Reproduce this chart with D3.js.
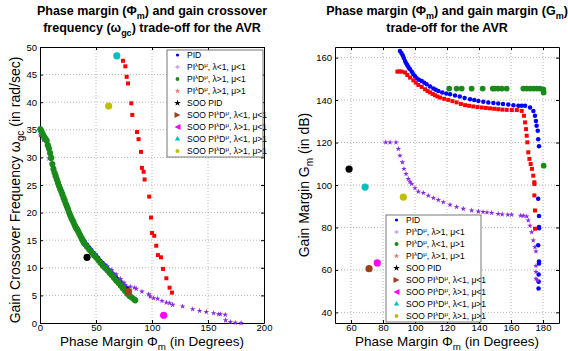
<!DOCTYPE html>
<html>
<head>
<meta charset="utf-8">
<script src="https://cdn.jsdelivr.net/npm/d3@7"></script>
<style>
body { margin: 0; background: #fff; }
svg { display: block; font-family: "Liberation Sans", Arial, sans-serif; }
.grid line { stroke: #b8b8b8; stroke-dasharray: 1,2; }
.axis path, .axis line { stroke: #000; }
.axis text { font-size: 9.5px; fill: #000; }
</style>
</head>
<body>
<svg width="568" height="351"></svg>
<script>
// ---- left panel: phase margin vs gain crossover frequency ----
var wgcPID = [[0.2,35.2],[2,34.6],[4,33.8],[6,33.2],[8,31.9],[10,30.2],[12,28.2],[14,26.9],[16,25.7],[18,24.6],[20,23.5],[22,22.5],[24,21.4],[26,20.3],[28,19.3],[30,18.5],[32,17.6],[34,16.9],[36,16.1],[38,15.4],[40,14.8],[42,14.2],[44,13.7],[46,13.2],[48,12.7],[50,12.3],[52,11.8],[54,11.3],[56,10.9],[58,10.5],[60,10.0],[62,9.6],[64,9.2],[66,8.8],[68,8.3],[70,7.9],[72,7.5],[74,7.1],[76,6.7],[78,6.3]];
var wgcLtLt = [[0.3,34.0],[3,33.2],[8,29.8],[14,26.2],[20,22.8],[26,19.8],[32,17.4],[38,15.2],[44,13.5],[50,12.0],[56,10.8],[60,10.3],[64,9.6],[68,8.8],[72,8.0],[75,7.3],[76.2,6.8],[80.6,6.6],[84.2,6.4],[85.9,6.2],[91,5.7],[97,5.2],[98.4,4.8],[101.4,4.5],[105,4.4],[108.9,4.0],[112.8,3.7],[115.7,3.6],[118.4,3.3],[127.3,3.0],[136.3,2.5],[142.5,2.2],[148.5,2.0],[155,1.8],[159.5,1.6],[161,1.6],[165.4,1.5],[165.7,0.5],[170,0.2],[174.4,0.05],[179.5,0.0]];
var wgcGtLt = [[0.3,35.1],[1,34.8],[2,34.4],[3,34.0],[4,33.6],[5,33.3],[6,33.0],[7,32.2],[8,31.6],[9,30.8],[10,29.9],[11,28.8],[12,27.9],[13,27.2],[14,26.6],[15,26.0],[16,25.4],[17,24.8],[18,24.3],[19,23.8],[20,23.3],[21,22.7],[22,22.2],[23,21.6],[24,21.1],[25,20.6],[26,20.0],[27,19.5],[28,19.0],[29,18.6],[30,18.2],[31,17.7],[32,17.3],[33,17.0],[34,16.6],[35,16.2],[36,15.8],[37,15.4],[38,15.0],[39,14.6],[40,14.3],[42,13.8],[44,13.3],[46,12.8],[48,12.3],[50,11.9],[52,11.4],[54,10.9],[56,10.4],[58,10.0],[60,9.6],[62,9.1],[64,8.7],[66,8.2],[68,7.7],[70,7.3],[72,6.8],[74,6.3],[76,5.8],[78,5.3],[80,4.9],[82,4.6],[84,4.3],[85,4.1]];
var wgcGtGt = [[74.1,47.5],[76.2,46.5],[77.4,44.6],[78.6,43.4],[81.5,39.8],[82.4,37.7],[86.6,34.6],[88,33.3],[90.2,31.0],[91,28.1],[92.5,27.4],[93.4,26.0],[97.5,22.9],[99.1,19.1],[100,16.3],[102,15.8],[103.8,14.0],[105.3,12.3],[108,11.9],[109.8,9.8],[112.8,8.1],[115.7,6.4],[117.8,5.5]];
// SOO PID, SOO l<1 m<1, SOO l>1 m<1, SOO l<1 m>1, SOO l>1 m>1
var wgcSOO = [[42,11.9],[79.1,5.7],[110.4,1.4],[68.6,48.4],[61.3,39.3]];

// ---- right panel: phase margin vs gain margin ----
var gmPID = [[90.6,163.1],[91.5,162.2],[92.3,161.1],[93.0,159.8],[93.8,158.4],[94.5,157.4],[95.2,156.4],[96.0,155.4],[96.9,154.5],[98.0,153.3],[99,152.2],[100,151.2],[101,150.3],[102.5,149.6],[104.2,149],[105.8,148.2],[107.3,147.5],[109.4,146.4],[111.5,145.4],[113,144.9],[114.6,144.3],[117,143.6],[119.5,143.1],[121.9,142.8],[125,142.2],[128,141.7],[131,141.0],[134.4,140.4],[137,140.0],[139.6,139.6],[142.7,139.2],[145.8,138.9],[149,138.6],[152,138.4],[155,138.1],[158.3,137.9],[161.5,137.6],[164.6,137.3],[166.7,137.3],[168.8,137.3],[171.9,136.5],[174,134.9],[175,132.6],[175.6,130.2],[176,127.9],[176.7,125.5],[177,121.6],[177.5,118.2],[177,93.5],[177.5,85.4],[177.5,80.2],[177.5,79.6],[177,71.6],[177.5,64],[177.5,63],[177.3,57.8],[177.3,54.4],[177.2,51.2]];
var gmGtLt = [[81.7,120.1],[84.4,120.1],[88.1,120.1],[89.6,117],[90.6,113.8],[92.1,110.7],[93.1,107.6],[94.4,105.2],[95.8,102.9],[96.8,101.6],[97.9,100.5],[100,98.5],[102.1,96.9],[105.2,96.3],[108.3,95],[111.5,93.9],[114.6,93],[117.7,91.9],[121.9,90.7],[126,89.7],[130.2,88.8],[135.4,88],[139.6,87.5],[142.5,87.3],[145,87.1],[147.9,86.9],[152,86.4],[154.5,86.2],[158,86.0],[160.4,86.0],[166,85.6],[167.7,85.5],[169.8,85.2],[170.8,83.3],[171.9,80.9],[172.9,77.8],[173.9,73.9],[175,70.8],[175.6,68.7],[175.6,61.9],[175.6,59.1],[175.6,55.9],[176.5,55]];
var gmLtGt = [[121.4,145.4],[126,145.4],[129.2,145.4],[135.4,145.4],[142.3,145.4],[148.6,145.4],[150,145.4],[152,145.4],[154.2,145.4],[157.3,145.4],[167.7,145.4],[169.8,145.4],[171.9,145.4],[174,145.4],[176.1,145.4],[178.1,145.4],[180.2,145],[180.4,143.6],[180.4,109.1]];
var gmGtGt = [[89,153.4],[90.3,153.5],[91.7,153.4],[93.8,153],[95.2,151.8],[96.9,150.6],[99,149.3],[100.5,148.2],[102.1,147.1],[104.2,146.2],[106.3,145.1],[107.8,144.3],[109.4,143.6],[111,142.9],[112.5,142.3],[114,141.7],[115.6,141.2],[118.2,140.6],[120.8,140.1],[123.4,139.5],[126,138.9],[128.7,138.2],[131.3,137.6],[133.8,137.3],[136.4,137],[139,136.7],[141.7,136.5],[144.3,136.3],[146.9,136.1],[149.5,135.9],[152,135.7],[154.6,135.5],[157.3,135.4],[160.5,135.3],[163.6,135.3],[166.7,134.9],[168.1,132.6],[168.8,129.5],[169.4,126.3],[169.8,123.2],[170.2,120.1],[170.8,115.4],[171.5,112.3],[172.3,109.9],[173.1,107.6],[173.9,104.4],[174.6,101.3],[174.6,100.5],[174.6,95.1],[175,88],[175,79.4]];
var gmSOO = [[58.8,107.5],[71.3,60.6],[76.4,63.3],[68.8,99],[92.7,94.3]];

var leftXTicks = [0, 50, 100, 150, 200],
    leftYTicks = [0, 5, 10, 15, 20, 25, 30, 35, 40, 45, 50],
    rightXTicks = [60, 80, 100, 120, 140, 160, 180],
    rightYTicks = [40, 60, 80, 100, 120, 140, 160];

var leftLegend = [
  [["PID"]],
  [["PI"],["λ","sup"],["D"],["μ","sup"],[", λ<1, μ<1"]],
  [["PI"],["λ","sup"],["D"],["μ","sup"],[", λ>1, μ<1"]],
  [["PI"],["λ","sup"],["D"],["μ","sup"],[", λ>1, μ>1"]],
  [["SOO PID"]],
  [["SOO PI"],["λ","sup"],["D"],["μ","sup"],[", λ<1, μ<1"]],
  [["SOO PI"],["λ","sup"],["D"],["μ","sup"],[", λ>1, μ<1"]],
  [["SOO PI"],["λ","sup"],["D"],["μ","sup"],[", λ<1, μ>1"]],
  [["SOO PI"],["λ","sup"],["D"],["μ","sup"],[", λ>1, μ>1"]]
];
var rightLegend = [
  [["PID"]],
  [["PI"],["λ","sup"],["D"],["μ","sup"],[", λ>1, μ<1"]],
  [["PI"],["λ","sup"],["D"],["μ","sup"],[", λ<1, μ>1"]],
  [["PI"],["λ","sup"],["D"],["μ","sup"],[", λ>1, μ>1"]],
  [["SOO PID"]],
  [["SOO PI"],["λ","sup"],["D"],["μ","sup"],[", λ<1, μ<1"]],
  [["SOO PI"],["λ","sup"],["D"],["μ","sup"],[", λ>1, μ<1"]],
  [["SOO PI"],["λ","sup"],["D"],["μ","sup"],[", λ<1, μ>1"]],
  [["SOO PI"],["λ","sup"],["D"],["μ","sup"],[", λ>1, μ>1"]]
];

var sooColors = ["#000000", "#a0401a", "#ff00ff", "#00bfbf", "#bfbf00"];
// legend markers: [color, symbol, size]
var legendMarks = [
  ["#0000ff", d3.symbolCircle, 8],
  ["#c9a0f0", d3.symbolCross, 10],
  ["#1a8a1a", d3.symbolCircle, 12],
  ["#ff6060", d3.symbolStar, 8],
  ["#000000", d3.symbolStar, 14],
  ["#a0401a", "right", 14],
  ["#ff00ff", "left", 14],
  ["#00bfbf", d3.symbolTriangle, 12],
  ["#bfbf00", d3.symbolCircle, 12]
];

var svg = d3.select("svg");

function rich(sel, parts, size) {
  var shift = 0;
  parts.forEach(function(p) {
    var t = sel.append("tspan").text(p[0]);
    var target = p[1] === "sub" ? size * 0.3 : p[1] === "sup" ? -size * 0.4 : 0;
    if (target !== shift) t.attr("dy", target - shift);
    shift = target;
    if (p[1]) t.style("font-size", (size * 0.72) + "px");
  });
}

function markPath(shape, size) {
  if (shape === "right" || shape === "left") {
    var r = Math.sqrt(size) * 0.8;
    var s = shape === "right" ? 1 : -1;
    return "M" + (-r * s) + "," + (-r) + "L" + (r * s) + ",0L" + (-r * s) + "," + r + "Z";
  }
  return d3.symbol().type(shape).size(size)();
}

function panel(o) {
  var x = d3.scaleLinear().domain(o.xDomain).range([o.left, o.right]),
      y = d3.scaleLinear().domain(o.yDomain).range([o.bottom, o.top]);
  var g = svg.append("g");

  // grid
  g.append("g").attr("class", "grid")
    .selectAll("line").data(o.xTicks.filter(function(t) { return t > o.xDomain[0] && t < o.xDomain[1]; }))
    .enter().append("line")
    .attr("x1", function(d) { return x(d); }).attr("x2", function(d) { return x(d); })
    .attr("y1", o.top).attr("y2", o.bottom);
  g.append("g").attr("class", "grid")
    .selectAll("line").data(o.yTicks.filter(function(t) { return t > o.yDomain[0] && t < o.yDomain[1]; }))
    .enter().append("line")
    .attr("y1", function(d) { return y(d); }).attr("y2", function(d) { return y(d); })
    .attr("x1", o.left).attr("x2", o.right);

  // axes (matlab style, ticks inside, box)
  g.append("g").attr("class", "axis").attr("transform", "translate(0," + o.bottom + ")")
    .call(d3.axisBottom(x).tickValues(o.xTicks).tickSize(-3).tickPadding(1.5).tickSizeOuter(0));
  g.append("g").attr("class", "axis").attr("transform", "translate(" + o.left + ",0)")
    .call(d3.axisLeft(y).tickValues(o.yTicks).tickSize(-3).tickPadding(3).tickSizeOuter(0));
  g.append("g").attr("class", "axis").attr("transform", "translate(0," + o.top + ")")
    .call(d3.axisTop(x).tickValues(o.xTicks).tickSize(-3).tickFormat("").tickSizeOuter(0));
  g.append("g").attr("class", "axis").attr("transform", "translate(" + o.right + ",0)")
    .call(d3.axisRight(y).tickValues(o.yTicks).tickSize(-3).tickFormat("").tickSizeOuter(0));

  // series
  o.series.forEach(function(s) {
    g.append("g").selectAll("path").data(s.data).enter().append("path")
      .attr("d", markPath(s.shape, s.size))
      .attr("transform", function(d) { return "translate(" + x(d[0]) + "," + y(d[1]) + ")"; })
      .attr("fill", s.color);
  });

  // single objective optimum points
  g.append("g").selectAll("circle").data(o.soo).enter().append("circle")
    .attr("cx", function(d) { return x(d[0]); })
    .attr("cy", function(d) { return y(d[1]); })
    .attr("r", 3.6)
    .attr("fill", function(d, i) { return sooColors[i]; });

  // legend
  var lg = g.append("g");
  lg.append("rect").attr("x", o.legend.x).attr("y", o.legend.y)
    .attr("width", o.legend.w).attr("height", o.legend.h)
    .attr("fill", "#fff").attr("stroke", "#555").attr("stroke-width", 0.8);
  o.legend.labels.forEach(function(lab, i) {
    var cy = o.legend.y + 5 + i * 12;
    var m = legendMarks[i];
    lg.append("path").attr("d", markPath(m[1], m[2]))
      .attr("transform", "translate(" + (o.legend.x + 10.5) + "," + cy + ")")
      .attr("fill", m[0]);
    var t = lg.append("text").attr("x", o.legend.x + 20).attr("y", cy + 3)
      .style("font-size", "8.5px");
    rich(t, lab, 8.5);
  });

  // titles and labels
  var cx = (o.left + o.right) / 2;
  o.title.forEach(function(line, i) {
    var t = svg.append("text").attr("x", cx).attr("y", 15 + i * 17)
      .attr("text-anchor", "middle").style("font-size", "12.5px").style("font-weight", "bold");
    rich(t, line, 12.5);
  });
  var xl = svg.append("text").attr("x", cx).attr("y", 346)
    .attr("text-anchor", "middle").style("font-size", "13.5px");
  rich(xl, [["Phase Margin Φ"], ["m", "sub"], [" (in Degrees)"]], 13.5);
  var yl = svg.append("text")
    .attr("transform", "translate(" + o.yLabelX + "," + o.yLabelY + ") rotate(-90)")
    .attr("text-anchor", "middle").style("font-size", "14px");
  rich(yl, o.yLabel, 14);
}

panel({
  left: 40, right: 264, top: 47, bottom: 323,
  xDomain: [0, 200], yDomain: [0, 50],
  xTicks: leftXTicks, yTicks: leftYTicks,
  series: [
    {data: wgcPID, color: "#0000ff", shape: d3.symbolCircle, size: 14},
    {data: wgcLtLt, color: "#8a2be2", shape: d3.symbolStar, size: 10},
    {data: wgcGtLt, color: "#1a8a1a", shape: d3.symbolCircle, size: 30},
    {data: wgcGtGt, color: "#ff0000", shape: d3.symbolSquare, size: 16}
  ],
  soo: wgcSOO,
  legend: {x: 167, y: 50, w: 96, h: 107, labels: leftLegend},
  title: [
    [["Phase margin (Φ"], ["m", "sub"], [") and gain crossover"]],
    [["frequency (ω"], ["gc", "sub"], [") trade-off for the AVR"]]
  ],
  yLabel: [["Gain Crossover Frequency ω"], ["gc", "sub"], [" (in rad/sec)"]],
  yLabelX: 20, yLabelY: 190
});

panel({
  left: 335, right: 559, top: 47, bottom: 323,
  xDomain: [50, 190], yDomain: [35, 165],
  xTicks: rightXTicks, yTicks: rightYTicks,
  series: [
    {data: gmPID, color: "#0000ff", shape: d3.symbolCircle, size: 16},
    {data: gmGtLt, color: "#8a2be2", shape: d3.symbolStar, size: 10},
    {data: gmLtGt, color: "#1a8a1a", shape: d3.symbolCircle, size: 26},
    {data: gmGtGt, color: "#ff0000", shape: d3.symbolSquare, size: 16}
  ],
  soo: gmSOO,
  legend: {x: 386, y: 215, w: 95, h: 107, labels: rightLegend},
  title: [
    [["Phase margin (Φ"], ["m", "sub"], [") and gain margin (G"], ["m", "sub"], [")"]],
    [["trade-off for the AVR"]]
  ],
  yLabel: [["Gain Margin G"], ["m", "sub"], [" (in dB)"]],
  yLabelX: 309, yLabelY: 185
});
</script>
</body>
</html>
